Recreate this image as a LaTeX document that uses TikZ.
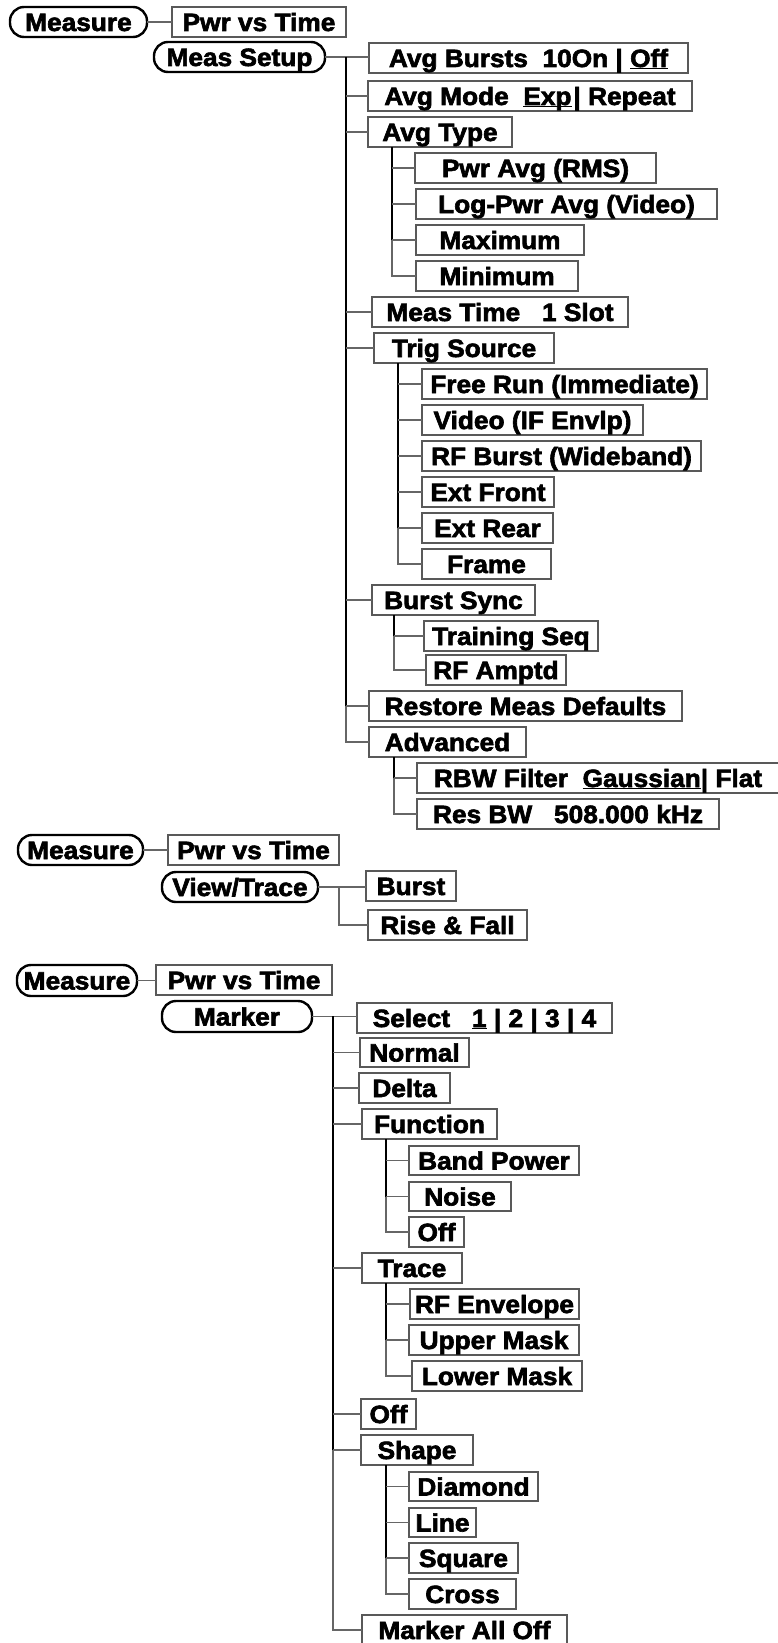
\documentclass[tikz,border=0pt]{standalone}
\usepackage{fontspec}
\setmainfont{Liberation Sans}[FakeStretch=1.05, BoldFeatures={FakeBold=2.5}]
\newcommand\ul[1]{\underline{\smash{#1}}}
\tikzset{
  bx/.style={draw=black!65, line width=1.2pt, inner sep=0pt, outer sep=0pt,
    font=\bfseries\fontsize{25}{25}\selectfont, text height=18pt, text depth=0pt},
  key/.style={bx, draw=black, line width=2.4pt, rounded corners=14pt},
  conn/.style={draw=black!60, line width=1.2pt},
  trunk/.style={draw=black, line width=2.2pt}
}
\newcommand\bx[6]{\node[bx, minimum width={#4-#2}, minimum height={#5-#3}] (#1) at ({(#2+#4)/2},{(#3+#5)/2}) {#6};}
\newcommand\kx[6]{\node[key, minimum width={#4-#2}, minimum height={#5-#3}] (#1) at ({(#2+#4)/2},{(#3+#5)/2}) {#6};}
\begin{document}
\begin{tikzpicture}[x=1pt,y=-1pt]
\useasboundingbox (0,0) rectangle (777,1643);
% ---------- section 1 ----------
\kx{measurea}{10}{7}{147}{37}{Measure}
\bx{pwra}{172}{7}{346}{37}{Pwr vs Time}
\kx{meassetup}{154}{42}{325}{72}{Meas Setup}
\bx{avgbursts}{369}{43}{688}{73}{Avg Bursts~~10On | \ul{Off}}
\bx{avgmode}{368}{81}{692}{111}{Avg Mode~~\ul{Exp}\kern2pt| Repeat}
\bx{avgtype}{368}{117}{512}{147}{Avg Type}
\bx{pwravg}{415}{153}{656}{183}{Pwr Avg (RMS)}
\bx{logpwr}{416}{189}{717}{219}{Log-Pwr Avg (Video)}
\bx{maximum}{416}{225}{584}{255}{Maximum}
\bx{minimum}{416}{261}{578}{291}{Minimum}
\bx{meastime}{372}{297}{628}{327}{Meas Time~~~1 Slot}
\bx{trigsrc}{374}{333}{554}{363}{Trig Source}
\bx{freerun}{422}{369}{707}{399}{Free Run (Immediate)}
\bx{video}{422}{405}{643}{435}{Video (IF Envlp)}
\bx{rfburst}{422}{441}{701}{471}{RF Burst (Wideband)}
\bx{extfront}{422}{477}{554}{507}{Ext Front}
\bx{extrear}{422}{513}{553}{543}{Ext Rear}
\bx{frame}{422}{549}{551}{579}{Frame}
\bx{burstsync}{372}{585}{535}{615}{Burst Sync}
\bx{training}{424}{621}{598}{651}{Training Seq}
\bx{rfamptd}{426}{655}{566}{685}{RF Amptd}
\bx{restore}{369}{691}{682}{721}{Restore Meas Defaults}
\bx{advanced}{369}{727}{526}{757}{Advanced}
\bx{rbw}{417}{763}{779}{793}{RBW Filter~~\ul{Gaussian}| Flat}
\bx{resbw}{417}{799}{719}{829}{Res BW~~~508.000 kHz}

\draw[conn] (measurea.east) -- (measurea.east -| pwra.west);
\draw[conn] (meassetup.east) -- (meassetup.east -| avgbursts.west);
\coordinate (ta) at (346,57);
\draw[trunk] (ta) -- (ta |- restore.west);
\foreach \n in {avgmode,avgtype,meastime,trigsrc,burstsync,restore}
  \draw[conn] (ta |- \n.west) -- (\n.west);
\draw[conn] (ta |- restore.west) |- (advanced.west);

\coordinate (tb) at (392,147);
\draw[trunk] (tb) -- (tb |- maximum.west);
\foreach \n in {pwravg,logpwr,maximum}
  \draw[conn] (tb |- \n.west) -- (\n.west);
\draw[conn] (tb |- maximum.west) |- (minimum.west);

\coordinate (tc) at (398,363);
\draw[trunk] (tc) -- (tc |- extrear.west);
\foreach \n in {freerun,video,rfburst,extfront,extrear}
  \draw[conn] (tc |- \n.west) -- (\n.west);
\draw[conn] (tc |- extrear.west) |- (frame.west);

\coordinate (td) at (394,615);
\draw[trunk] (td) -- (td |- training.west);
\draw[conn] (td |- training.west) -- (training.west);
\draw[conn] (td |- training.west) |- (rfamptd.west);

\coordinate (te) at (394,757);
\draw[trunk] (te) -- (te |- rbw.west);
\draw[conn] (te |- rbw.west) -- (rbw.west);
\draw[conn] (te |- rbw.west) |- (resbw.west);

% ---------- section 2 ----------
\kx{measureb}{18}{835}{143}{865}{Measure}
\bx{pwrb}{168}{835}{339}{865}{Pwr vs Time}
\kx{viewtrace}{162}{872}{318}{902}{View/Trace}
\bx{burst}{366}{871}{456}{901}{Burst}
\bx{risefall}{368}{910}{527}{940}{Rise \& Fall}
\draw[conn] (measureb.east) -- (measureb.east -| pwrb.west);
\draw[conn] (viewtrace.east) -- (viewtrace.east -| burst.west);
\coordinate (tf) at (339,887);
\draw[conn] (tf) |- (risefall.west);

% ---------- section 3 ----------
\kx{measurec}{17}{965}{137}{996}{Measure}
\bx{pwrc}{156}{965}{332}{995}{Pwr vs Time}
\kx{marker}{162}{1001}{312}{1032}{Marker}
\bx{select}{357}{1003}{612}{1033}{Select~~~\ul{1} | 2 | 3 | 4}
\bx{normal}{360}{1038}{469}{1067}{Normal}
\bx{delta}{359}{1073}{450}{1103}{Delta}
\bx{function}{362}{1109}{497}{1139}{Function}
\bx{bandpower}{409}{1146}{579}{1175}{Band Power}
\bx{noise}{409}{1182}{511}{1211}{Noise}
\bx{foff}{409}{1217}{464}{1247}{Off}
\bx{trace}{362}{1253}{462}{1283}{Trace}
\bx{rfenv}{410}{1289}{579}{1319}{RF Envelope}
\bx{upper}{409}{1325}{579}{1355}{Upper Mask}
\bx{lower}{412}{1361}{582}{1391}{Lower Mask}
\bx{moff}{361}{1399}{416}{1429}{Off}
\bx{shape}{361}{1435}{473}{1465}{Shape}
\bx{diamond}{409}{1472}{538}{1501}{Diamond}
\bx{lineb}{409}{1508}{476}{1537}{Line}
\bx{square}{409}{1543}{518}{1573}{Square}
\bx{cross}{409}{1579}{516}{1609}{Cross}
\bx{alloff}{362}{1615}{567}{1645}{Marker All Off}

\draw[conn] (measurec.east) -- (measurec.east -| pwrc.west);
\draw[conn] (marker.east) -- (marker.east -| select.west);
\coordinate (tg) at (333,1016);
\draw[trunk] (tg) -- (tg |- shape.west);
\foreach \n in {normal,delta,function,trace,moff,shape}
  \draw[conn] (tg |- \n.west) -- (\n.west);
\draw[conn] (tg |- shape.west) |- (alloff.west);

\coordinate (th) at (386,1139);
\draw[trunk] (th) -- (th |- noise.west);
\foreach \n in {bandpower,noise}
  \draw[conn] (th |- \n.west) -- (\n.west);
\draw[conn] (th |- noise.west) |- (foff.west);

\coordinate (ti) at (386,1283);
\draw[trunk] (ti) -- (ti |- upper.west);
\foreach \n in {rfenv,upper}
  \draw[conn] (ti |- \n.west) -- (\n.west);
\draw[conn] (ti |- upper.west) |- (lower.west);

\coordinate (tj) at (386,1465);
\draw[trunk] (tj) -- (tj |- square.west);
\foreach \n in {diamond,lineb,square}
  \draw[conn] (tj |- \n.west) -- (\n.west);
\draw[conn] (tj |- square.west) |- (cross.west);
\end{tikzpicture}
\end{document}
